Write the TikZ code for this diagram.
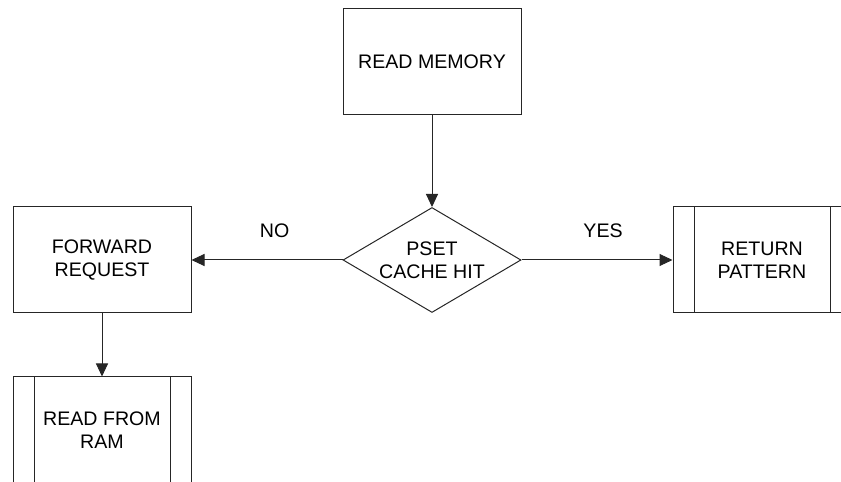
\documentclass[tikz,border=0pt]{standalone}
\usepackage{fontspec}
\setmainfont{Liberation Sans}
\usetikzlibrary{shapes.geometric,arrows.meta}

\tikzset{
  subproc/.style={path picture={
      \draw ([xshift=10.5pt]path picture bounding box.north west) -- ([xshift=10.5pt]path picture bounding box.south west);
      \draw ([xshift=-10.5pt]path picture bounding box.north east) -- ([xshift=-10.5pt]path picture bounding box.south east);
    }}
}

\begin{document}
\begin{tikzpicture}[x=.5pt,y=.5pt,line width=.5pt,draw=black!85,
    font=\fontsize{9.8}{11.5}\selectfont]

      \useasboundingbox (0,0) rectangle (841,482);
      \clip (0,0) rectangle (841,482);

      \begin{scope}[every node/.style={draw, align=center, inner sep=0pt,
          minimum width=89pt, minimum height=53pt}]
        \node (mem) at (432,420) {READ MEMORY};
        \node[diamond, aspect=1.7, inner sep=-1.5pt, minimum height=52.5pt] (hit) at (432,222) {PSET\\CACHE HIT};
        \node (fwd) at (102,222) {FORWARD\\REQUEST};
        \node[subproc] (ret) at (762,222) {RETURN\\PATTERN};
        \node[subproc] (ram) at (102,52) {READ FROM\\RAM};
      \end{scope}

      \begin{scope}[every edge/.style={draw, -{Triangle[length=6.5pt,width=6pt]}}]
        \path (mem) edge (hit);
        \path (hit) edge node[pos=.45, yshift=14.5pt] {NO} (fwd);
        \path (hit) edge node[pos=.54, yshift=14.5pt] {YES} (ret);
        \path (fwd) edge (ram);
      \end{scope}

    \end{tikzpicture}
\end{document}
